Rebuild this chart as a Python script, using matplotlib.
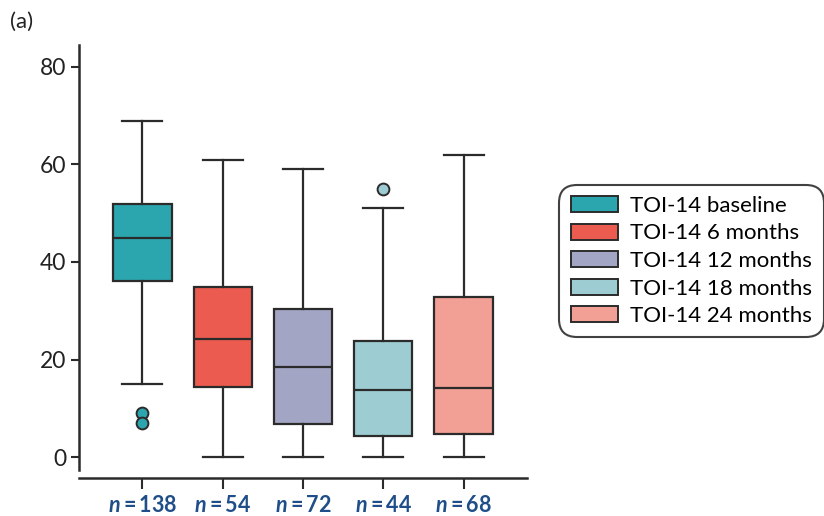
import matplotlib
matplotlib.use('Agg')
import matplotlib.pyplot as plt
import matplotlib.patches as mpatches

plt.rcParams['font.family'] = ['Lato', 'DejaVu Sans']
plt.rcParams['mathtext.fontset'] = 'custom'
plt.rcParams['mathtext.rm'] = 'Lato:bold'
plt.rcParams['mathtext.it'] = 'Lato:italic:bold'

# box stats
labels = ['TOI-14 baseline', 'TOI-14 6 months', 'TOI-14 12 months',
          'TOI-14 18 months', 'TOI-14 24 months']
whislo = [15, 0, 0, 0, 0]
q1 = [36.2, 14.4, 6.8, 4.3, 4.7]
med = [45, 24.2, 18.5, 13.7, 14.1]
q3 = [51.8, 34.9, 30.4, 23.7, 32.9]
whishi = [69, 61, 59, 51, 62]
fliers = [[9, 7], [], [], [55], []]
n_vals = [138, 54, 72, 44, 68]
colors = ['#2ba6ae', '#ec5b4f', '#a3a5c4', '#9dcdd3', '#f29f95']
edge = '#2b2b2b'

stats = []
for i in range(len(labels)):
    stats.append(dict(label=labels[i], whislo=whislo[i], q1=q1[i], med=med[i],
                      q3=q3[i], whishi=whishi[i], fliers=fliers[i]))

fig = plt.figure(figsize=(8.24, 5.16), dpi=100)
ax = fig.add_axes([79/824, 1-478/516, 448/824, 433/516])

lw = 1.6
bp = ax.bxp(stats, positions=range(len(labels)), widths=0.725, patch_artist=True,
            showfliers=True,
            boxprops=dict(edgecolor=edge, linewidth=lw),
            medianprops=dict(color=edge, linewidth=lw),
            whiskerprops=dict(color=edge, linewidth=lw),
            capprops=dict(color=edge, linewidth=lw),
            capwidths=0.5)
for patch, c in zip(bp['boxes'], colors):
    patch.set_facecolor(c)
for fl, c in zip(bp['fliers'], colors):
    fl.set(marker='o', markerfacecolor=c, markeredgecolor=edge,
           markersize=8.5, markeredgewidth=1.4)

ax.set_xlim(-0.79, 4.79)
ax.set_ylim(-4.3, 84.5)
ax.set_yticks([0, 20, 40, 60, 80])
ax.set_xticks(range(len(labels)))
ax.set_xticklabels([rf'$n\,\!=\,\!{v}$' for v in n_vals], fontsize=15.5, color='#1f4e89')
ax.tick_params(axis='y', labelsize=16.5, length=6, width=1.5, color=edge,
               labelcolor='#222222', pad=3)
ax.tick_params(axis='x', length=8, width=1.5, color=edge, pad=4)
for s in ['top', 'right']:
    ax.spines[s].set_visible(False)
ax.spines['left'].set_linewidth(1.8)
ax.spines['bottom'].set_linewidth(1.8)
ax.spines['left'].set_color(edge)
ax.spines['bottom'].set_color(edge)
ax.spines['left'].set_bounds(-2.7, 84.5)

handles = [mpatches.Patch(facecolor=c, edgecolor=edge, linewidth=1.4, label=l)
           for c, l in zip(colors, labels)]
leg = fig.legend(handles=handles, loc='center', bbox_to_anchor=(691.5/824, 1-261/516),
                 fontsize=16, frameon=True, fancybox=True, handlelength=2.15,
                 handleheight=0.72, labelspacing=0.34, handletextpad=0.55,
                 borderpad=0.5)
frame = leg.get_frame()
frame.set_edgecolor('#111111')
frame.set_linewidth(1.5)
frame.set_boxstyle('round,pad=0,rounding_size=0.8')

fig.text(10/824, 1-22/516, '(a)', fontsize=16, va='center', ha='left', color='#222222')

fig.savefig('out.png', dpi=100)
